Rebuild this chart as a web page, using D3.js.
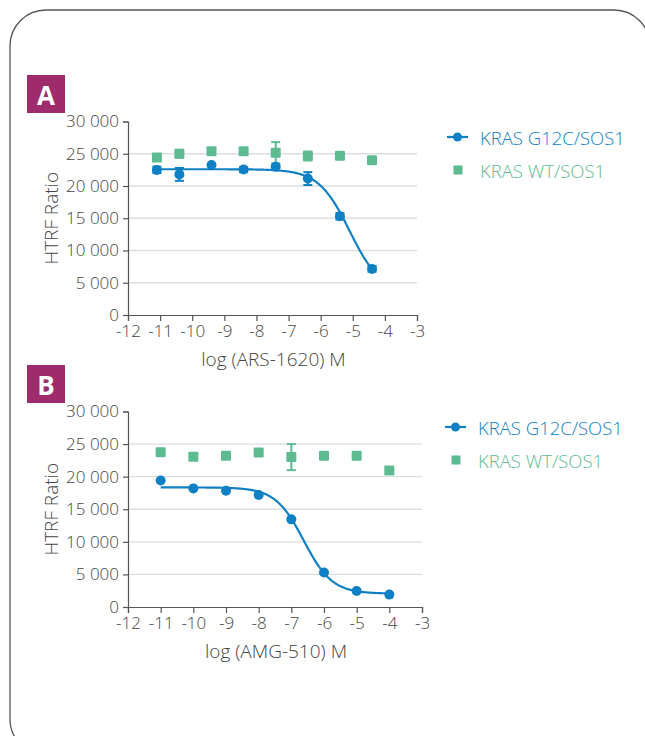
<!DOCTYPE html>
<html>
<head>
<meta charset="utf-8">
<script src="https://cdn.jsdelivr.net/npm/d3@7"></script>
<style>
  html, body { margin: 0; padding: 0; background: #fff; }
  svg { display: block; font-family: "Open Sans", "Noto Sans", sans-serif; }
</style>
</head>
<body>
<svg id="chart" width="645" height="736"></svg>
<script>
// ---- data -------------------------------------------------------------
const seriesNames = ["KRAS G12C/SOS1", "KRAS WT/SOS1"];
const yTicks = [0, 5000, 10000, 15000, 20000, 25000, 30000];
const xTicks = [-12, -11, -10, -9, -8, -7, -6, -5, -4, -3];

// Panel A: ARS-1620
const concA = [-11.1, -10.4, -9.4, -8.4, -7.4, -6.4, -5.4, -4.4];
const g12cA = [22500, 21800, 23250, 22550, 23000, 21150, 15300, 7150];
const g12cErrA = [500, 1000, 0, 400, 0, 1000, 500, 450];
const wtA = [24400, 25000, 25400, 25400, 25150, 24650, 24700, 24000];
const wtErrA = [0, 600, 400, 0, 1650, 700, 300, 300];
// four-parameter logistic fit: top, bottom, logIC50, Hill slope
const fitA = [22600, 3500, -5.1, 0.9];

// Panel B: AMG-510
const concB = [-11, -10, -9, -8, -7, -6, -5, -4];
const g12cB = [19400, 18200, 17850, 17200, 13450, 5300, 2450, 1900];
const g12cErrB = [0, 0, 0, 0, 0, 0, 0, 0];
const wtB = [23750, 23050, 23200, 23700, 23000, 23200, 23200, 20950];
const wtErrB = [0, 0, 0, 300, 2000, 0, 300, 500];
const fitB = [18350, 2050, -6.62, 1.0];

// ---- style ------------------------------------------------------------
const blue = "#1080c4";
const green = "#5cbb91";
const axisColor = "#555";
const textColor = "#444";
const gridColor = "#dedede";
const tagColor = "#9e2b6b";
const labelWeight = 300;

const svg = d3.select("#chart");

// rounded frame around the figure
svg.append("rect")
  .attr("x", 10).attr("y", 10)
  .attr("width", 640).attr("height", 745)
  .attr("rx", 36).attr("ry", 36)
  .attr("fill", "none")
  .attr("stroke", "#555")
  .attr("stroke-width", 1.3);

function logistic(p, x) {
  const [top, bottom, c, h] = p;
  return bottom + (top - bottom) / (1 + Math.pow(10, h * (x - c)));
}

function drawPanel(opt) {
  const g = svg.append("g");
  const x = d3.scaleLinear().domain([-12, -3]).range([opt.x0, opt.x1]);
  const y = d3.scaleLinear().domain([0, 30000]).range([opt.y0, opt.y1]);

  // panel tag
  g.append("rect")
    .attr("x", 27).attr("y", opt.tagY)
    .attr("width", 38).attr("height", 38)
    .attr("fill", tagColor);
  g.append("text")
    .attr("x", 46).attr("y", opt.tagY + 20)
    .attr("text-anchor", "middle")
    .attr("dominant-baseline", "central")
    .attr("fill", "#fff")
    .attr("font-size", 26)
    .attr("font-weight", 700)
    .text(opt.tag);

  // horizontal grid
  g.append("g")
    .selectAll("line")
    .data(yTicks.filter(d => d > 0 && d < 30000))
    .join("line")
    .attr("x1", x(-12)).attr("x2", x(-3))
    .attr("y1", d => y(d)).attr("y2", d => y(d))
    .attr("stroke", gridColor)
    .attr("stroke-width", 1.3);

  // axes
  const yAxis = g.append("g")
    .attr("transform", `translate(${x(-12)},0)`)
    .call(d3.axisLeft(y).tickValues(yTicks).tickSize(5).tickPadding(4)
      .tickFormat(d => d === 0 ? "0" : d3.format(",")(d).replace(",", " ")));
  const xAxis = g.append("g")
    .attr("transform", `translate(0,${y(0)})`)
    .call(d3.axisBottom(x).tickValues(xTicks).tickSize(6).tickPadding(4)
      .tickFormat(d => String(d)));
  [xAxis, yAxis].forEach(a => {
    a.select(".domain").attr("stroke", axisColor).attr("stroke-width", 1.2);
    a.selectAll(".tick line").attr("stroke", axisColor).attr("stroke-width", 1.2);
    a.selectAll(".tick text")
      .attr("fill", textColor)
      .attr("font-size", 17)
      .attr("font-weight", labelWeight)
      .attr("font-family", "\"Open Sans\", sans-serif");
  });

  // axis titles
  g.append("text")
    .attr("transform", `translate(${opt.x0 - 77},${(y(0) + y(30000)) / 2}) rotate(-90)`)
    .attr("text-anchor", "middle")
    .attr("dominant-baseline", "central")
    .attr("fill", textColor)
    .attr("font-size", 19)
    .attr("font-weight", labelWeight)
    .text("HTRF Ratio");
  g.append("text")
    .attr("x", (x(-12) + x(-3)) / 2 + 1)
    .attr("y", y(0) + 51)
    .attr("text-anchor", "middle")
    .attr("fill", textColor)
    .attr("font-size", 19)
    .attr("font-weight", labelWeight)
    .text(opt.xTitle);

  // fitted curve
  const xs = d3.range(0, 201).map(i => opt.conc[0] + (opt.conc[opt.conc.length - 1] - opt.conc[0]) * i / 200);
  g.append("path")
    .datum(xs)
    .attr("fill", "none")
    .attr("stroke", blue)
    .attr("stroke-width", 2.2)
    .attr("d", d3.line().x(d => x(d)).y(d => y(logistic(opt.fit, d))));

  // error bars
  function errorBars(vals, errs, color) {
    const data = opt.conc.map((c, i) => ({ c, v: vals[i], e: errs[i] })).filter(d => d.e > 0);
    const eg = g.append("g").attr("stroke", color).attr("stroke-width", 2);
    eg.selectAll("line.v").data(data).join("line")
      .attr("x1", d => x(d.c)).attr("x2", d => x(d.c))
      .attr("y1", d => y(d.v - d.e)).attr("y2", d => y(d.v + d.e));
    eg.selectAll("line.t").data(data).join("line")
      .attr("x1", d => x(d.c) - 4.5).attr("x2", d => x(d.c) + 4.5)
      .attr("y1", d => y(d.v + d.e)).attr("y2", d => y(d.v + d.e));
    eg.selectAll("line.b").data(data).join("line")
      .attr("x1", d => x(d.c) - 4.5).attr("x2", d => x(d.c) + 4.5)
      .attr("y1", d => y(d.v - d.e)).attr("y2", d => y(d.v - d.e));
  }
  errorBars(opt.wt, opt.wtErr, green);
  errorBars(opt.g12c, opt.g12cErr, blue);

  // WT markers (squares)
  g.append("g").selectAll("rect")
    .data(opt.conc.map((c, i) => ({ c, v: opt.wt[i] })))
    .join("rect")
    .attr("x", d => x(d.c) - 5).attr("y", d => y(d.v) - 5)
    .attr("width", 10).attr("height", 10)
    .attr("rx", 1.2)
    .attr("fill", green);

  // G12C markers (circles)
  g.append("g").selectAll("circle")
    .data(opt.conc.map((c, i) => ({ c, v: opt.g12c[i] })))
    .join("circle")
    .attr("cx", d => x(d.c)).attr("cy", d => y(d.v))
    .attr("r", 5)
    .attr("fill", blue);

  // legend
  const lg = g.append("g").attr("transform", `translate(${opt.legX},${opt.legY})`);
  lg.append("line").attr("x1", 0).attr("x2", 21).attr("y1", 0).attr("y2", 0)
    .attr("stroke", blue).attr("stroke-width", 2.2);
  lg.append("circle").attr("cx", 10.5).attr("cy", 0).attr("r", 4.5).attr("fill", blue);
  lg.append("text").attr("x", 33).attr("y", 0)
    .attr("dominant-baseline", "central")
    .attr("fill", blue).attr("font-size", 18.5)
    .attr("font-weight", labelWeight)
    .text(seriesNames[0]);
  lg.append("rect").attr("x", 6.5).attr("y", 33 - 4.5).attr("width", 9).attr("height", 9)
    .attr("fill", green);
  lg.append("text").attr("x", 33).attr("y", 33)
    .attr("dominant-baseline", "central")
    .attr("fill", green).attr("font-size", 18.5)
    .attr("font-weight", labelWeight)
    .text(seriesNames[1]);
}

drawPanel({
  tag: "A", tagY: 75,
  x0: 128, x1: 417, y0: 315, y1: 121.5,
  conc: concA, g12c: g12cA, g12cErr: g12cErrA, wt: wtA, wtErr: wtErrA, fit: fitA,
  xTitle: "log (ARS-1620) M",
  legX: 447, legY: 137
});
drawPanel({
  tag: "B", tagY: 365,
  x0: 128, x1: 422, y0: 607, y1: 411.5,
  conc: concB, g12c: g12cB, g12cErr: g12cErrB, wt: wtB, wtErr: wtErrB, fit: fitB,
  xTitle: "log (AMG-510) M",
  legX: 445, legY: 427
});
</script>
</body>
</html>
